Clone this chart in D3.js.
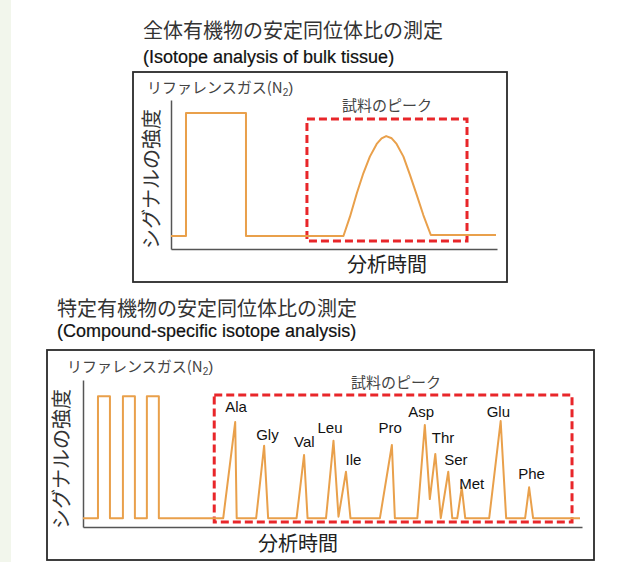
<!DOCTYPE html>
<html><head><meta charset="utf-8">
<script src="https://cdn.jsdelivr.net/npm/d3@7/dist/d3.min.js"></script>
<style>
html,body{margin:0;padding:0;background:#fff;}
svg{display:block;}
.jp{font-family:"Noto Sans CJK JP","Noto Sans",sans-serif;}
.en{font-family:"Liberation Sans",Arial,sans-serif;}
</style></head>
<body>
<script>
// ---- Top panel: bulk tissue ----
const topTitle = "全体有機物の安定同位体比の測定";
const topSubtitle = "(Isotope analysis of bulk tissue)";
const topTime   = [0, 4.6, 4.6, 23.0, 23.0, 52.9, 54.9, 57.0, 59.0, 61.0, 63.1, 64.6, 66.0, 67.7, 69.2, 71.3, 73.3, 75.4, 77.4, 79.7, 99.7];
const topSignal = [8.7, 8.7, 91.3, 91.3, 8.7, 8.7, 21.7, 37.4, 50.8, 62.0, 70.5, 74.3, 75.8, 74.3, 70.5, 62.0, 49.7, 36.2, 22.8, 9.4, 9.4];
const topSampleTime = [41.7, 90.8];
const topSampleLevel = [5.4, 87.2];

// ---- Bottom panel: compound-specific ----
const botTitle = "特定有機物の安定同位体比の測定";
const botSubtitle = "(Compound-specific isotope analysis)";
const botTime   = [0, 3.0, 3.0, 5.4, 5.4, 8.0, 8.0, 10.4, 10.4, 12.8, 12.8, 15.2, 15.2,
                   28.1, 30.5, 30.8, 34.7, 36.3, 37.1, 42.8, 44.3, 45.0, 48.7, 50.2, 51.2, 52.7, 53.6,
                   59.5, 61.9, 62.5, 67.0, 68.5, 69.5, 70.6, 71.7, 73.2, 74.0, 75.0, 75.9, 76.6,
                   81.4, 83.7, 84.8, 88.6, 89.4, 90.2, 99.6];
const botSignal = [6, 6, 89, 89, 6, 6, 89, 89, 6, 6, 89, 89, 6,
                   6, 71.4, 6, 6, 55.3, 6, 6, 49.0, 6, 6, 58.7, 7, 37.6, 6,
                   6, 55.8, 6, 6, 69.4, 19.0, 49.7, 6, 37.6, 6, 6, 27.0, 6,
                   6, 72.1, 6, 6, 27.0, 6, 6];
const botSampleTime = [26.3, 98.0];
const botSampleLevel = [3.4, 89.8];

const aminoNames = ["Ala","Gly","Val","Leu","Ile","Pro","Asp","Thr","Ser","Met","Glu","Phe"];
const aminoLabelTime  = [28.5, 34.7, 42.3, 47.0, 52.6, 59.2, 65.2, 69.9, 72.4, 75.4, 80.9, 87.2];
const aminoLabelLevel = [78.2, 59.2, 54.6, 63.7, 42.2, 63.7, 74.8, 56.9, 42.2, 25.6, 74.6, 32.7];

const refLabel = "リファレンスガス(N";
const sampleLabel = "試料のピーク";
const yLabel = "シグナルの強度";
const xLabel = "分析時間";

const W = 623, H = 562;
const ORANGE = "#E9A04B", RED = "#E8262A";

const svg = d3.select("body").append("svg").attr("width", W).attr("height", H);
svg.append("rect").attr("width", W).attr("height", H).attr("fill", "#fff");
svg.append("rect").attr("x", 0).attr("y", 0).attr("width", 11).attr("height", H).attr("fill", "#f2f6ec");

function panel(cfg) {
  const g = svg.append("g");
  // titles
  g.append("text").attr("class","jp").attr("x", cfg.titleX).attr("y", cfg.titleY)
    .attr("font-size", 20).attr("fill", "#333").text(cfg.title);
  g.append("text").attr("class","en").attr("x", cfg.titleX).attr("y", cfg.subY)
    .attr("font-size", 18).attr("fill", "#111").attr("stroke","#111").attr("stroke-width",0.2).text(cfg.subtitle);
  // frame
  g.append("rect").attr("x", cfg.box[0]).attr("y", cfg.box[1])
    .attr("width", cfg.box[2]-cfg.box[0]).attr("height", cfg.box[3]-cfg.box[1])
    .attr("fill", "none").attr("stroke", "#2a2a2a").attr("stroke-width", 1.8);

  const x = d3.scaleLinear().domain([0,100]).range(cfg.xr);
  const y = d3.scaleLinear().domain([0,100]).range(cfg.yr);

  // axes (lines only)
  const xa = g.append("g").attr("transform", `translate(0,${cfg.yr[0]})`)
    .call(d3.axisBottom(x).tickValues([]).tickSizeOuter(0));
  const ya = g.append("g").attr("transform", `translate(${cfg.xr[0]},0)`)
    .call(d3.axisLeft(y).tickValues([]).tickSizeOuter(0));
  [xa, ya].forEach(a => a.select(".domain").attr("stroke", "#555").attr("stroke-width", 1.5));

  // red sample box
  g.append("rect")
    .attr("x", x(cfg.sT[0])).attr("y", y(cfg.sL[1]))
    .attr("width", x(cfg.sT[1]) - x(cfg.sT[0])).attr("height", y(cfg.sL[0]) - y(cfg.sL[1]))
    .attr("fill", "none").attr("stroke", RED).attr("stroke-width", 3).attr("stroke-dasharray", "8,4");

  // signal trace
  const pts = cfg.t.map((d,i) => [d, cfg.v[i]]);
  g.append("path").datum(pts)
    .attr("d", d3.line().x(d => x(d[0])).y(d => y(d[1])))
    .attr("fill", "none").attr("stroke", ORANGE).attr("stroke-width", 2).attr("stroke-linejoin","round");

  // reference label
  const rl = g.append("text").attr("class","jp").attr("x", cfg.refPos[0]).attr("y", cfg.refPos[1])
    .attr("font-size", 15).attr("fill", "#444");
  rl.append("tspan").text(refLabel);
  rl.append("tspan").attr("class","en").attr("font-size", 10).attr("dy", 3).text("2");
  rl.append("tspan").attr("class","en").attr("dy", -3).text(")");

  g.append("text").attr("class","jp").attr("x", cfg.samplePos[0]).attr("y", cfg.samplePos[1])
    .attr("font-size", 15).attr("fill", "#444").text(sampleLabel);

  // y label (rotated)
  g.append("text").attr("class","jp")
    .attr("transform", `translate(${cfg.yLabPos[0]},${cfg.yLabPos[1]}) rotate(-90)`)
    .attr("text-anchor", "middle").attr("font-size", 20).attr("fill", "#333").text(yLabel);
  g.append("text").attr("class","jp").attr("x", cfg.xLabPos[0]).attr("y", cfg.xLabPos[1])
    .attr("text-anchor", "middle").attr("font-size", 20).attr("fill", "#222").text(xLabel);
  return {g, x, y};
}

panel({
  title: topTitle, subtitle: topSubtitle, titleX: 143, titleY: 38, subY: 63,
  box: [133, 72, 507, 282], xr: [171, 497], yr: [249, 100],
  t: topTime, v: topSignal, sT: topSampleTime, sL: topSampleLevel,
  refPos: [147, 93], samplePos: [342, 111], yLabPos: [159, 179], xLabPos: [387, 272]
});

const bot = panel({
  title: botTitle, subtitle: botSubtitle, titleX: 57, titleY: 316, subY: 337,
  box: [47, 350, 594, 560], xr: [83, 582], yr: [527, 380],
  t: botTime, v: botSignal, sT: botSampleTime, sL: botSampleLevel,
  refPos: [67, 372], samplePos: [351, 388], yLabPos: [69, 459], xLabPos: [298, 551]
});

bot.g.selectAll("text.amino").data(aminoNames).enter().append("text")
  .attr("class", "amino en")
  .attr("x", (d,i) => bot.x(aminoLabelTime[i]))
  .attr("y", (d,i) => bot.y(aminoLabelLevel[i]))
  .attr("font-size", 15).attr("fill", "#111").text(d => d);
</script>
</body></html>
